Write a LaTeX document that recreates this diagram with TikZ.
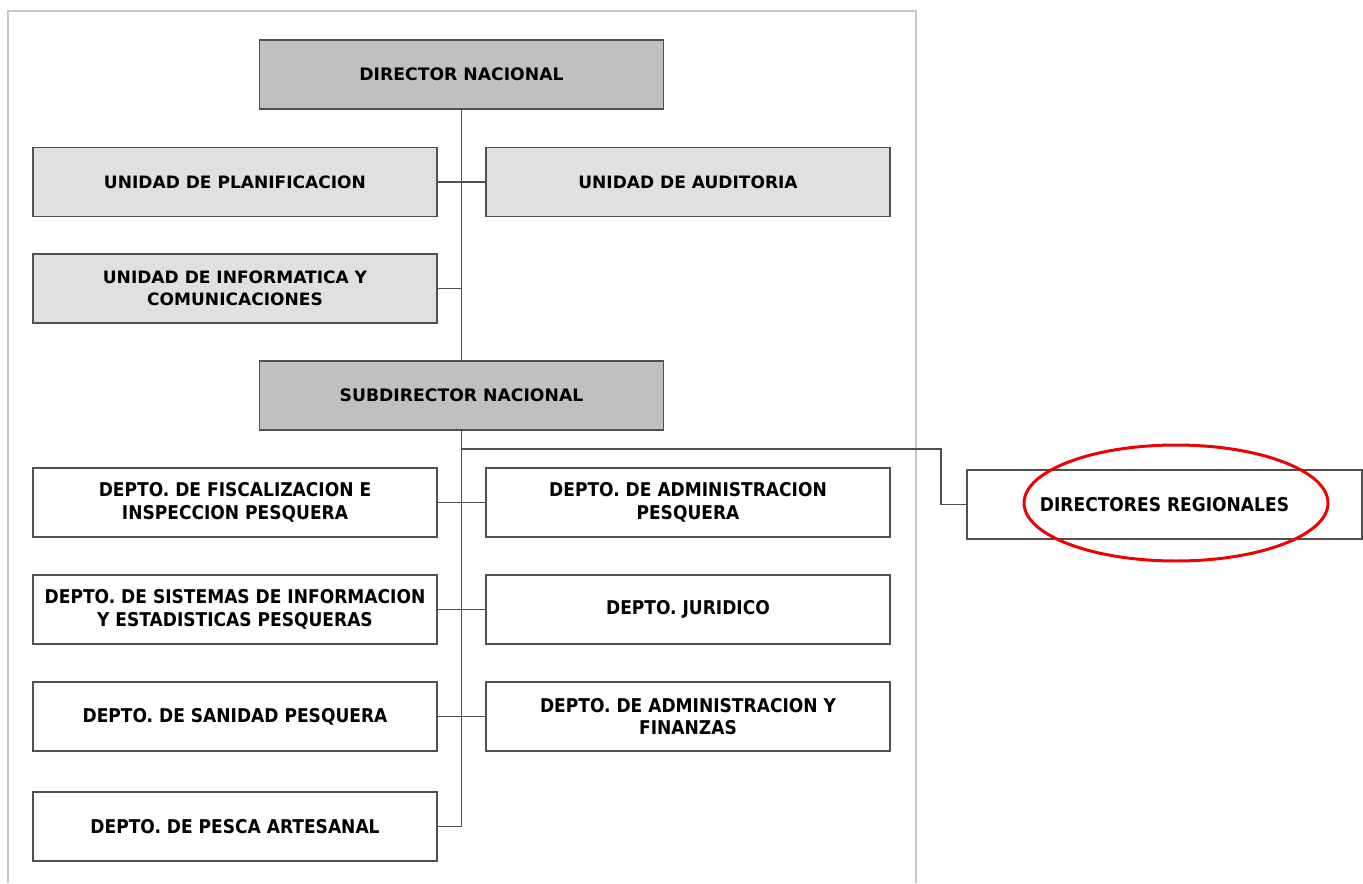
\documentclass[tikz,border=0pt]{standalone}
\usepackage{fontspec}
\setmainfont{DejaVu Sans}
\newfontfamily\condfont{DejaVu Sans Condensed}
\usetikzlibrary{positioning, calc}
\definecolor{boxline}{HTML}{505050}
\definecolor{headfill}{HTML}{C0C0C0}
\definecolor{unitfill}{HTML}{E0E0E0}
\definecolor{framegray}{HTML}{C8C8C8}
\definecolor{markred}{HTML}{F00000}

\tikzset{
  orgbox/.style={draw=boxline, line width=0.9pt, minimum width=8.08cm,
    minimum height=1.38cm, align=center, inner sep=2pt},
  headbox/.style={orgbox, fill=headfill, font=\bfseries\fontsize{9.8}{12.8}\selectfont},
  unitbox/.style={orgbox, fill=unitfill, font=\bfseries\fontsize{9.7}{12.8}\selectfont},
  deptbox/.style={orgbox, fill=white, font=\condfont\bfseries\fontsize{10.8}{12.8}\selectfont},
  conn/.style={draw=boxline, line width=0.9pt}
}

\begin{document}
\begin{tikzpicture}[x=0.02cm, y=-0.02cm]
  \useasboundingbox (0,0) rectangle (1363,883);

  % page frame
  \draw[framegray, line width=0.85pt] (8,883) -- (8,11) -- (916,11) -- (916,883);

  % top level
  \node[headbox] (dirnac) at (461.5,74.5) {DIRECTOR NACIONAL};
  \node[unitbox] (uplan) at (235,182) {UNIDAD DE PLANIFICACION};
  \node[unitbox] (uaud) at (688,182) {UNIDAD DE AUDITORIA};
  \node[unitbox] (uinfo) at (235,288.5) {UNIDAD DE INFORMATICA Y\\COMUNICACIONES};
  \node[headbox] (subdir) at (461.5,395.5) {SUBDIRECTOR NACIONAL};

  % departments
  \node[deptbox] (dfisc) at (235,502.5) {DEPTO. DE FISCALIZACION E\\INSPECCION PESQUERA};
  \node[deptbox] (dadmp) at (688,502.5) {DEPTO. DE ADMINISTRACION\\PESQUERA};
  \node[deptbox] (dsist) at (235,609.5) {DEPTO. DE SISTEMAS DE INFORMACION\\Y ESTADISTICAS PESQUERAS};
  \node[deptbox] (djur) at (688,609.5) {DEPTO. JURIDICO};
  \node[deptbox] (dsan) at (235,716.5) {DEPTO. DE SANIDAD PESQUERA};
  \node[deptbox] (dadmf) at (688,716.5) {DEPTO. DE ADMINISTRACION Y\\FINANZAS};
  \node[deptbox] (dpesca) at (235,826.5) {DEPTO. DE PESCA ARTESANAL};
  \node[deptbox, minimum width=7.9cm] (dreg) at (1164.5,504.5) {DIRECTORES REGIONALES};

  % connectors
  \draw[conn] (dirnac.south) -- (subdir.north);
  \draw[conn] (uplan.east) -- (uaud.west);
  \draw[conn] (uinfo.east) -- (uinfo.east -| dirnac.south);
  \draw[conn] (subdir.south) |- (dpesca.east);
  \draw[conn] (dfisc.east) -- (dadmp.west);
  \draw[conn] (dsist.east) -- (djur.west);
  \draw[conn] (dsan.east) -- (dadmf.west);
  \coordinate (split) at (461.5,449);
  \coordinate (bend) at (941,449);
  \draw[conn] (split) -- (bend) |- (dreg.west);

  % highlight
  \draw[markred, line width=1.7pt] (1176,503) ellipse [x radius=3.04cm, y radius=1.16cm];
\end{tikzpicture}
\end{document}
